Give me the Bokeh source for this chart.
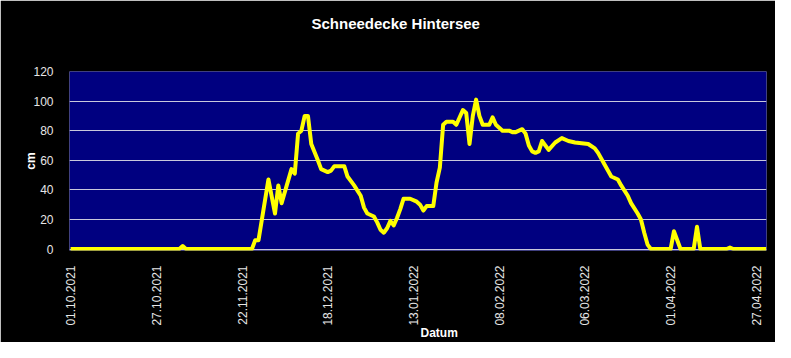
from datetime import datetime
import math
import pandas as pd
from bokeh.plotting import figure
from bokeh.models import Range1d, FixedTicker, DatetimeTickFormatter, Title
from bokeh.embed import file_html
from bokeh.resources import INLINE

# ---- data ----
dates = [
    "2021-10-01", "2021-11-03", "2021-11-04", "2021-11-05", "2021-11-25", "2021-11-26",
    "2021-11-27", "2021-11-30", "2021-12-02", "2021-12-03", "2021-12-04", "2021-12-07",
    "2021-12-08", "2021-12-09", "2021-12-10", "2021-12-11", "2021-12-12", "2021-12-13",
    "2021-12-15", "2021-12-16", "2021-12-18", "2021-12-19", "2021-12-20", "2021-12-23",
    "2021-12-24", "2021-12-26", "2021-12-28", "2021-12-29", "2021-12-30", "2022-01-01",
    "2022-01-02", "2022-01-03", "2022-01-04", "2022-01-05", "2022-01-06", "2022-01-07",
    "2022-01-08", "2022-01-09", "2022-01-10", "2022-01-12", "2022-01-14", "2022-01-15",
    "2022-01-16", "2022-01-17", "2022-01-19", "2022-01-20", "2022-01-21", "2022-01-22",
    "2022-01-23", "2022-01-25", "2022-01-26", "2022-01-28", "2022-01-29", "2022-01-30",
    "2022-01-31", "2022-02-01", "2022-02-02", "2022-02-03", "2022-02-05", "2022-02-06",
    "2022-02-07", "2022-02-09", "2022-02-11", "2022-02-12", "2022-02-13", "2022-02-15",
    "2022-02-16", "2022-02-17", "2022-02-18", "2022-02-19", "2022-02-20", "2022-02-21",
    "2022-02-23", "2022-02-25", "2022-02-27", "2022-03-01", "2022-03-03", "2022-03-07",
    "2022-03-09", "2022-03-10", "2022-03-12", "2022-03-14", "2022-03-16", "2022-03-17",
    "2022-03-19", "2022-03-20", "2022-03-22", "2022-03-23", "2022-03-24", "2022-03-25",
    "2022-03-26", "2022-04-01", "2022-04-02", "2022-04-04", "2022-04-08", "2022-04-09",
    "2022-04-10", "2022-04-18", "2022-04-19", "2022-04-20", "2022-04-30",
]
snow_cm = [
    0, 0, 2, 0, 0, 6,
    6, 47, 24, 43, 31, 54,
    51, 78, 80, 90, 90, 71,
    60, 54, 52, 53, 56, 56,
    49, 43, 36, 28, 24, 22,
    18, 13, 11, 14, 19, 16,
    21, 27, 34, 34, 32, 30,
    26, 29, 29, 45, 55, 84,
    86, 86, 84, 94, 92, 71,
    90, 101, 90, 84, 84, 89,
    84, 80, 80, 79, 79, 81,
    78, 70, 66, 65, 66, 73,
    67, 72, 75, 73, 72, 71,
    68, 65, 57, 49, 47, 43,
    36, 31, 24, 20, 11, 3,
    0, 0, 12, 0, 0, 15,
    0, 0, 1, 0, 0,
]
tick_dates = ["2021-10-01", "2021-10-27", "2021-11-22", "2021-12-18", "2022-01-13",
              "2022-02-08", "2022-03-06", "2022-04-01", "2022-04-27"]
y_ticks = [0, 20, 40, 60, 80, 100, 120]
title_text = "Schneedecke Hintersee"
x_title = "Datum"
y_title = "cm"

x = pd.to_datetime(dates)
ticks_ms = [int(pd.Timestamp(d).value // 10**6) for d in tick_dates]

FONT = "Liberation Sans"

p = figure(width=775, height=342, output_backend="svg", toolbar_location=None,
           x_axis_type="datetime",
           x_range=Range1d(datetime(2021, 9, 30, 16), datetime(2022, 4, 30, 2)),
           y_range=Range1d(-1, 120),
           min_border_left=69, min_border_right=9, min_border_top=71, min_border_bottom=92)

p.border_fill_color = "black"
p.background_fill_color = "#000080"
p.outline_line_color = None

p.line(x, snow_cm, line_color="#ffff00", line_width=4, line_join="round")

# axes
p.xaxis.ticker = FixedTicker(ticks=ticks_ms)
fmt = "%d.%m.%Y"
p.xaxis.formatter = DatetimeTickFormatter(milliseconds=fmt, seconds=fmt, minsec=fmt, minutes=fmt,
                                          hourmin=fmt, hours=fmt, days=fmt, months=fmt, years=fmt)
p.xaxis.major_label_orientation = math.pi / 2
p.yaxis.ticker = FixedTicker(ticks=y_ticks)
for ax in (p.xaxis, p.yaxis):
    ax.axis_line_color = None
    ax.major_tick_line_color = None
    ax.minor_tick_line_color = None
    ax.major_label_text_color = "#e6e6e6"
    ax.major_label_text_font = FONT
    ax.major_label_text_font_size = "12px"
p.xaxis.major_label_standoff = 9
p.yaxis.major_label_standoff = 10

p.yaxis.axis_label = y_title
p.yaxis.axis_label_text_color = "white"
p.yaxis.axis_label_text_font = FONT
p.yaxis.axis_label_text_font_size = "12px"
p.yaxis.axis_label_text_font_style = "bold"
p.yaxis.axis_label_standoff = -8

p.xgrid.grid_line_color = None
p.ygrid.grid_line_color = "#c8c8dc"
p.ygrid.grid_line_width = 1

# titles
p.add_layout(Title(text=x_title, align="left", offset=351, standoff=-10, text_color="white",
                   text_font=FONT, text_font_size="12px", text_font_style="bold"), "below")
# spacer between chart title and plot area
p.add_layout(Title(text=" ", text_font_size="12px", standoff=24), "above")
p.add_layout(Title(text=title_text, align="left", offset=242, standoff=0,
                   text_color="white", text_font=FONT, text_font_size="15px",
                   text_font_style="bold"), "above")

open("out.html", "w").write(file_html(p, INLINE))
